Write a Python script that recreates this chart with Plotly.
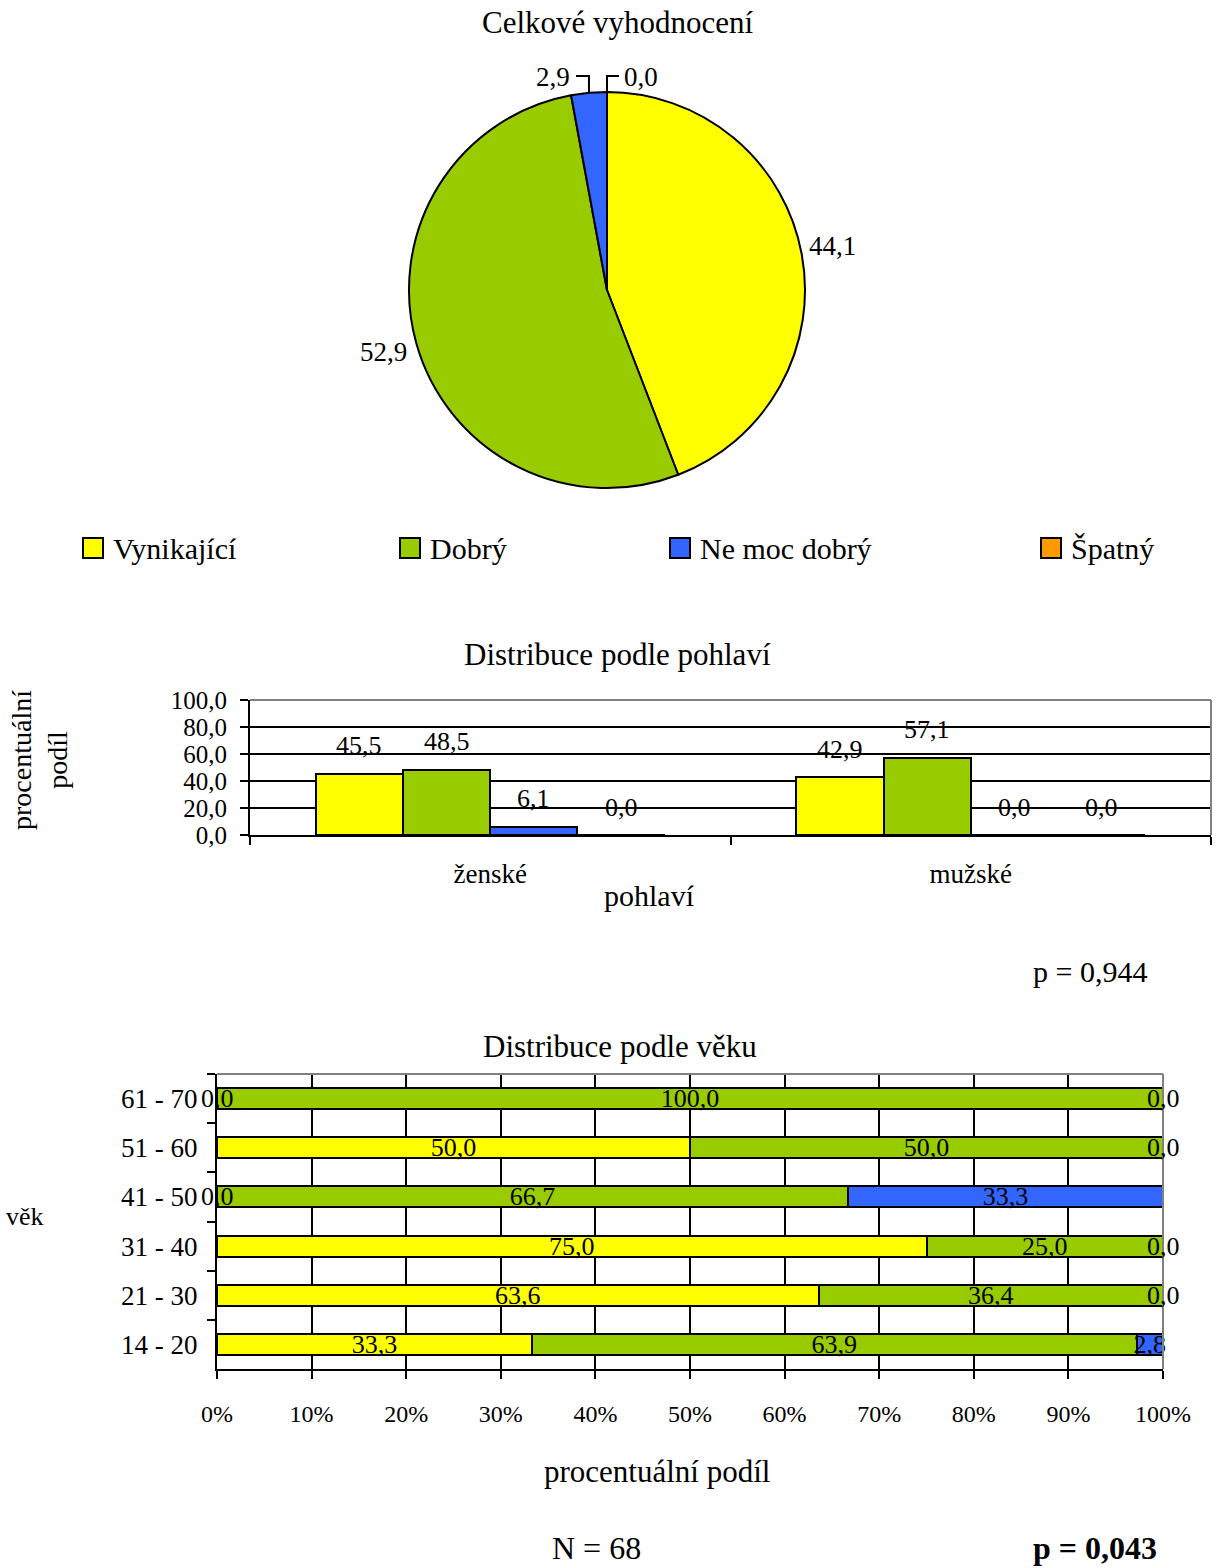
import math
import plotly.graph_objects as go

W, H = 1220, 1568
OFF = 0
FW, FH = W - 2 * OFF, H - 2 * OFF
FONT = "Liberation Serif"

# ---------------- data ----------------
categories = ["Vynikající", "Dobrý", "Ne moc dobrý", "Špatný"]
colors = ["#FFFF00", "#99CC00", "#3366FF", "#FF9900"]

overall_values = [44.1, 52.9, 2.9, 0.0]

genders = ["ženské", "mužské"]
gender_vynikajici = [45.5, 42.9]
gender_dobry = [48.5, 57.1]
gender_ne_moc = [6.1, 0.0]
gender_spatny = [0.0, 0.0]
gender_ticks = [0, 20, 40, 60, 80, 100]

age_groups = ["14 - 20", "21 - 30", "31 - 40", "41 - 50", "51 - 60", "61 - 70"]
age_vynikajici = [33.3, 63.6, 75.0, 0.0, 50.0, 0.0]
age_dobry = [63.9, 36.4, 25.0, 66.7, 50.0, 100.0]
age_ne_moc = [2.8, 0.0, 0.0, 33.3, 0.0, 0.0]
age_spatny = [0.0, 0.0, 0.0, 0.0, 0.0, 0.0]
age_labelled = [True, True, True, False]
age_ticks = [0, 10, 20, 30, 40, 50, 60, 70, 80, 90, 100]

p_gender = "p = 0,944"
p_age = "p = 0,043"
n_total = "N = 68"


def fmt(v):
    return f"{v:.1f}".replace(".", ",")


def px(x):
    return (x - OFF) / FW


def py(y):
    return 1 - (y - OFF) / FH


fig = go.Figure()

# ---------------- pie ----------------
PIE_CX, PIE_CY, PIE_R = 607, 290, 198
fig.add_trace(go.Pie(
    labels=categories, values=overall_values, sort=False,
    direction="clockwise", rotation=0, textinfo="none", hoverinfo="skip",
    marker=dict(colors=colors, line=dict(color="black", width=2)),
    domain=dict(x=[px(PIE_CX - PIE_R), px(PIE_CX + PIE_R)],
                y=[py(PIE_CY + PIE_R), py(PIE_CY - PIE_R)]),
    showlegend=False,
))

# ---------------- gender bars ----------------
G_LEFT, G_RIGHT = 250, 1211
BARGAP = 0.274
gender_series = [gender_vynikajici, gender_dobry, gender_ne_moc, gender_spatny]
for i, vals in enumerate(gender_series):
    fig.add_trace(go.Bar(
        x=genders, y=vals, name=categories[i],
        marker=dict(color=colors[i], line=dict(color="black", width=2)),
        offsetgroup=f"g{i}", cliponaxis=False,
        xaxis="x", yaxis="y", showlegend=False, hoverinfo="skip",
    ))

# ---------------- age bars ----------------
age_series = [age_vynikajici, age_dobry, age_ne_moc, age_spatny]
for i, vals in enumerate(age_series):
    txt = [fmt(v) if (age_labelled[i] and v != 0) else "" for v in vals]
    fig.add_trace(go.Bar(
        y=age_groups, x=vals, orientation="h", name=categories[i],
        width=0.43,
        marker=dict(color=colors[i], line=dict(color="black", width=2)),
        text=txt, textposition="inside", insidetextanchor="middle",
        textangle=0, constraintext="none",
        insidetextfont=dict(family=FONT, size=26, color="black"),
        xaxis="x2", yaxis="y2", showlegend=False, hoverinfo="skip",
        cliponaxis=False,
    ))

annotations = []
shapes = []


def ann(text, x, y, size, xanchor="center", angle=0, bold=False):
    if bold:
        text = f"<b>{text}</b>"
    annotations.append(dict(
        text=text, x=px(x), y=py(y), xref="paper", yref="paper",
        xanchor=xanchor, yanchor="middle", showarrow=False,
        textangle=angle, font=dict(family=FONT, size=size, color="black"),
    ))


# gender value labels, anchored at each bar top
cat_px = (G_RIGHT - G_LEFT) / len(genders)
bar_px = cat_px * (1 - BARGAP) / len(gender_series)
for i, vals in enumerate(gender_series):
    for j, v in enumerate(vals):
        annotations.append(dict(
            text=fmt(v), x=genders[j], y=v, xref="x", yref="y",
            xshift=(i - (len(gender_series) - 1) / 2) * bar_px, yshift=28,
            showarrow=False, xanchor="center", yanchor="middle",
            font=dict(family=FONT, size=26, color="black"),
        ))

# zero labels in age chart (centered on the zero-width segment)
for i, vals in enumerate(age_series):
    if not age_labelled[i]:
        continue
    for j, v in enumerate(vals):
        if v == 0:
            base = sum(age_series[k][j] for k in range(i))
            annotations.append(dict(
                text=fmt(v), x=base, y=age_groups[j], xref="x2", yref="y2",
                showarrow=False, xanchor="center", yanchor="middle",
                font=dict(family=FONT, size=26, color="black"),
            ))

# ---------------- texts ----------------
ann("Celkové vyhodnocení", 618, 22, 31)
ann(fmt(overall_values[0]), 833, 246, 27)
ann(fmt(overall_values[1]), 383, 352, 27)
ann(fmt(overall_values[2]), 572, 77, 27, xanchor="right")
ann(fmt(overall_values[3]), 622, 77, 27, xanchor="left")

# pie leader lines computed from slice angles
total = sum(overall_values)
cum = 0
mids = []
for v in overall_values:
    mids.append((cum + v / 2) / total)
    cum += v


def edge_point(frac):
    th = 2 * math.pi * frac
    return PIE_CX + PIE_R * math.sin(th), PIE_CY - PIE_R * math.cos(th)


for idx, x_start in ((2, 576), (3, 619)):
    ex, ey = edge_point(mids[idx])
    path = (f"M {px(x_start)},{py(76)} L {px(ex)},{py(76)} "
            f"L {px(ex)},{py(ey)}")
    shapes.append(dict(type="path", path=path, xref="paper", yref="paper",
                       line=dict(color="black", width=2)))

# legend
legend_x = [83, 400, 670, 1041]
for i, name in enumerate(categories):
    x0 = legend_x[i]
    shapes.append(dict(type="rect", xref="paper", yref="paper",
                       x0=px(x0), x1=px(x0 + 20), y0=py(558), y1=py(538),
                       fillcolor=colors[i], line=dict(color="black", width=2)))
    ann(name, x0 + 28, 548, 30, xanchor="left")

ann("Distribuce podle pohlaví", 617, 654, 31)
ann("procentuální<br>podíl", 40, 760, 28, angle=-90)
ann("pohlaví", 649, 895, 30)
ann(p_gender, 1090, 971, 30)

ann("Distribuce podle věku", 620, 1046, 31)
ann("věk", 25, 1216, 26)
ann("procentuální podíl", 657, 1471, 31)
ann(n_total, 596, 1548, 32)
ann(p_age, 1095, 1548, 32, bold=True)

# gray plot-area borders (top, right)
for xr, yr in (("x domain", "y domain"), ("x2 domain", "y2 domain")):
    shapes.append(dict(type="line", xref=xr, yref=yr, x0=0, x1=1, y0=1, y1=1,
                       line=dict(color="#808080", width=2)))
    shapes.append(dict(type="line", xref=xr, yref=yr, x0=1, x1=1, y0=0, y1=1,
                       line=dict(color="#808080", width=2)))

fig.update_layout(
    template="none",
    width=FW, height=FH, autosize=False,
    margin=dict(l=0, r=0, t=0, b=0, pad=0, autoexpand=False),
    paper_bgcolor="white", plot_bgcolor="white",
    font=dict(family=FONT, color="black"),
    separators=", ",
    barmode="stack", bargap=BARGAP, bargroupgap=0,
    showlegend=False,
    annotations=annotations, shapes=shapes,
    xaxis=dict(
        domain=[px(G_LEFT), px(G_RIGHT)], anchor="y", type="category",
        categoryorder="array", categoryarray=genders,
        range=[-0.5, 1.5], tickson="boundaries", automargin=False,
        ticks="outside", ticklen=8, tickwidth=2, tickcolor="black",
        showline=True, linecolor="black", linewidth=2, showgrid=False,
        tickfont=dict(family=FONT, size=27), ticklabelstandoff=14,
        fixedrange=True,
    ),
    yaxis=dict(
        domain=[py(835), py(700)], anchor="x", range=[0, 100],
        tickvals=gender_ticks, tickformat=".1f", automargin=False,
        ticks="outside", ticklen=8, tickwidth=2, tickcolor="black",
        showline=True, linecolor="black", linewidth=2,
        showgrid=True, gridcolor="black", gridwidth=2, zeroline=False,
        tickfont=dict(family=FONT, size=25), ticklabelstandoff=8,
        fixedrange=True,
    ),
    xaxis2=dict(
        domain=[px(217), px(1163)], anchor="y2", range=[0, 100],
        tickvals=age_ticks, ticktext=[f"{t}%" for t in age_ticks],
        automargin=False,
        ticks="outside", ticklen=8, tickwidth=2, tickcolor="black",
        showline=True, linecolor="black", linewidth=2,
        showgrid=True, gridcolor="black", gridwidth=2, zeroline=False,
        tickfont=dict(family=FONT, size=24), ticklabelstandoff=14,
        fixedrange=True,
    ),
    yaxis2=dict(
        domain=[py(1369), py(1074)], anchor="x2", type="category",
        categoryorder="array", categoryarray=age_groups,
        range=[-0.5, len(age_groups) - 0.5], tickson="boundaries",
        automargin=False,
        ticks="outside", ticklen=8, tickwidth=2, tickcolor="black",
        showline=True, linecolor="black", linewidth=2, showgrid=False,
        tickfont=dict(family=FONT, size=27), ticklabelstandoff=12,
        fixedrange=True,
    ),
)

fig.write_html("out.html")
